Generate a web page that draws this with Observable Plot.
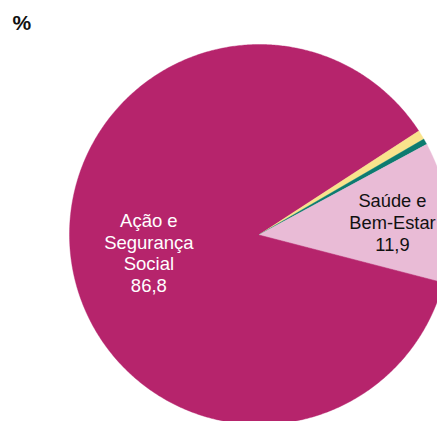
<!DOCTYPE html>
<html>
<head>
<meta charset="utf-8">
<script src="https://cdn.jsdelivr.net/npm/d3@7"></script>
<script src="https://cdn.jsdelivr.net/npm/@observablehq/plot@0.6"></script>
<style>
  html, body { margin: 0; padding: 0; background: #fff; }
  #chart svg { display: block; font-family: "Liberation Sans", Arial, sans-serif; }
</style>
</head>
<body>
<div id="chart"></div>
<script>
// Data
const categories = ["Ação e Segurança Social", "Outra área A", "Outra área B", "Saúde e Bem-Estar"];
const values = [86.8, 0.8, 0.5, 11.9];
const labels = ["Ação e\nSegurança\nSocial\n86,8", "", "", "Saúde e\nBem-Estar\n11,9"];
const colors = ["#B6246C", "#F9E38C", "#0D7B70", "#E9BBD6"];
const unitLabel = "%";

// Geometry (style)
const W = 437, H = 421;
const cx = 259, cy = 234, R = 190;
const startDeg = 104.5;

const pie = d3.pie().sort(null).value(d => d.value).startAngle(startDeg * Math.PI / 180).endAngle((startDeg + 360) * Math.PI / 180);
const slices = pie(categories.map((c, i) => ({cat: c, value: values[i], label: labels[i]})));

// polygon points for each slice, unit radius, y up
const pts = [];
for (const s of slices) {
  const cat = s.data.cat;
  pts.push({cat, x: 0, y: 0});
  const span = s.endAngle - s.startAngle;
  const n = Math.max(4, Math.ceil(span / (0.5 * Math.PI / 180)));
  for (let k = 0; k <= n; k++) {
    const a = s.startAngle + span * k / n;
    pts.push({cat, x: Math.sin(a), y: Math.cos(a)});
  }
}

function centroid(s, r) {
  const a = (s.startAngle + s.endAngle) / 2;
  return {x: r * Math.sin(a), y: r * Math.cos(a), label: s.data.label};
}
const mainLabel = [centroid(slices[0], 0.59)];
const pinkLabel = [centroid(slices[3], 0.705)];

const chart = Plot.plot({
  width: W,
  height: H,
  margin: 0,
  x: {domain: [-cx / R, (W - cx) / R], range: [0, W], axis: null},
  y: {domain: [(cy - H) / R, cy / R], range: [H, 0], axis: null},
  color: {domain: categories, range: colors},
  style: {fontFamily: "'Liberation Sans', Arial, sans-serif", background: "#fff"},
  marks: [
    Plot.line(pts, {x: "x", y: "y", z: "cat", fill: "cat", stroke: "cat", strokeWidth: 0.4, curve: "linear-closed"}),
    Plot.text(mainLabel, {x: "x", y: "y", text: "label", fill: "white", fontSize: 18.5, lineHeight: 1.17, textAnchor: "middle"}),
    Plot.text(pinkLabel, {x: "x", y: "y", text: "label", fill: "#111", fontSize: 18.3, lineHeight: 1.2, textAnchor: "middle", dy: 4}),
    Plot.text([unitLabel], {frameAnchor: "top-left", text: d => d, dx: 12, dy: 15, lineAnchor: "top", textAnchor: "start", fontSize: 21, fontWeight: "bold", fill: "#111"})
  ]
});
document.getElementById("chart").append(chart);
</script>
</body>
</html>
